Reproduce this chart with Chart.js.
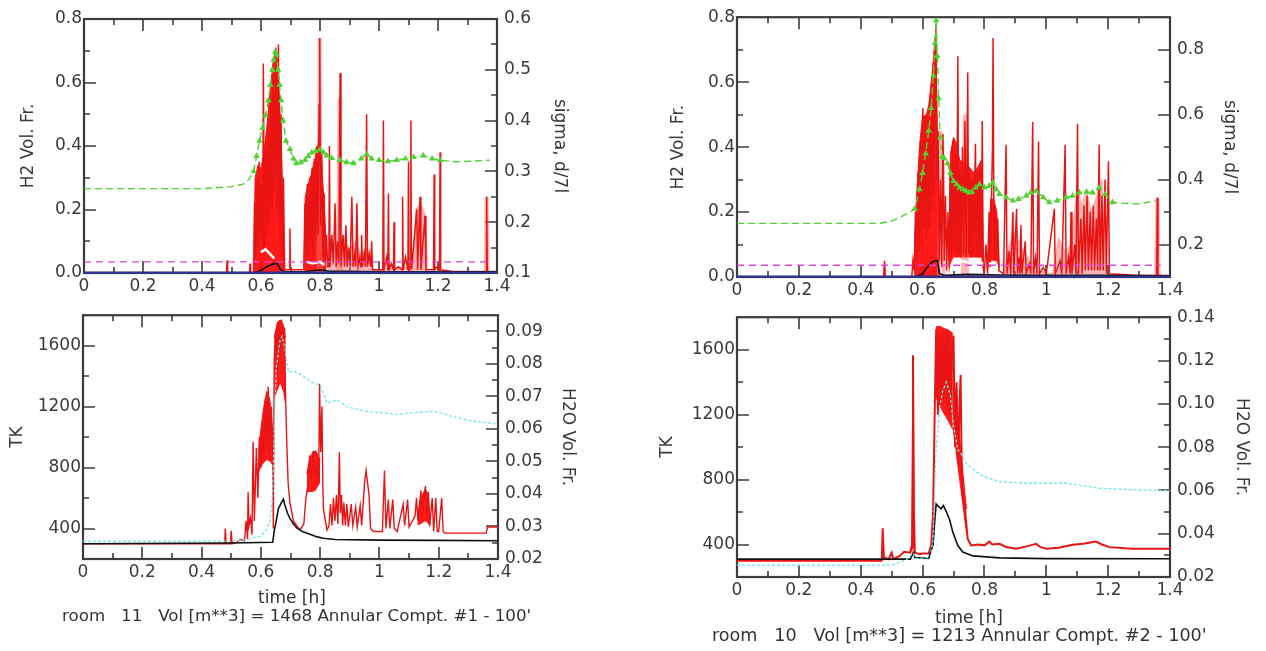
<!DOCTYPE html>
<html>
<head>
<meta charset="utf-8">
<script src="https://cdn.jsdelivr.net/npm/chart.js@4.4.1/dist/chart.umd.min.js"></script>
<style>
html, body { margin: 0; padding: 0; background: #fff; }
body { width: 1266px; height: 651px; position: relative; overflow: hidden; font-family: "DejaVu Sans", sans-serif; color: #333; }
canvas { position: absolute; }
.txt { position: absolute; font-size: 17px; line-height: 17px; white-space: pre; }
</style>
</head>
<body>
<canvas id="r11top" width="620" height="300" style="left:0;top:0"></canvas>
<canvas id="r11bot" width="620" height="290" style="left:0;top:298px"></canvas>
<canvas id="r10top" width="626" height="300" style="left:640px;top:0"></canvas>
<canvas id="r10bot" width="626" height="310" style="left:640px;top:300px"></canvas>
<div class="txt" style="left:258px;top:589px">time [h]</div>
<div class="txt" style="left:62px;top:607px;font-size:16.7px">room   11   Vol [m**3] = 1468 Annular Compt. #1 - 100'</div>
<div class="txt" style="left:935px;top:609px">time [h]</div>
<div class="txt" style="left:712px;top:627px;font-size:17.6px">room   10   Vol [m**3] = 1213 Annular Compt. #2 - 100'</div>
<script>
// --- axes ---
const xTicks = [0, 0.2, 0.4, 0.6, 0.8, 1, 1.2, 1.4];
const xTickLabels = ['0', '0.2', '0.4', '0.6', '0.8', '1', '1.2', '1.4'];
const xMinor = [0.1, 0.3, 0.5, 0.7, 0.9, 1.1, 1.3];

const h2Ticks = [0, 0.2, 0.4, 0.6, 0.8];
const h2Labels = ['0.0', '0.2', '0.4', '0.6', '0.8'];
const h2Minor = [0.1, 0.3, 0.5, 0.7];

const r11SigmaTicks = [0.1, 0.2, 0.3, 0.4, 0.5, 0.6];
const r11SigmaLabels = ['0.1', '0.2', '0.3', '0.4', '0.5', '0.6'];
const r11SigmaMinor = [0.15, 0.25, 0.35, 0.45, 0.55];
const r10SigmaTicks = [0.2, 0.4, 0.6, 0.8];
const r10SigmaLabels = ['0.2', '0.4', '0.6', '0.8'];
const r10SigmaMinor = [0.3, 0.5, 0.7];

const tkTicks = [400, 800, 1200, 1600];
const tkLabels = ['400', '800', '1200', '1600'];
const tkMinor = [600, 1000, 1400];

const r11H2oTicks = [0.02, 0.03, 0.04, 0.05, 0.06, 0.07, 0.08, 0.09];
const r11H2oLabels = ['0.02', '0.03', '0.04', '0.05', '0.06', '0.07', '0.08', '0.09'];
const r11H2oMinor = [0.025, 0.035, 0.045, 0.055, 0.065, 0.075, 0.085];
const r10H2oTicks = [0.02, 0.04, 0.06, 0.08, 0.10, 0.12, 0.14];
const r10H2oLabels = ['0.02', '0.04', '0.06', '0.08', '0.10', '0.12', '0.14'];
const r10H2oMinor = [0.03, 0.05, 0.07, 0.09, 0.11, 0.13];

// --- room 11, upper plot: [time, value] ---
const r11H2Red = [
  [0,0],[0.483,0],[0.485,0.04],[0.487,0],[0.561,0],[0.563,0.03],[0.565,0],[0.575,0],
  [0.578,0.22],[0.582,0.05],[0.586,0.30],[0.59,0.08],[0.594,0.35],[0.598,0.10],[0.602,0.28],[0.606,0.06],[0.608,0.66],[0.611,0.08],
  [0.616,0.42],[0.62,0.12],[0.625,0.47],[0.629,0.15],[0.633,0.55],[0.637,0.20],[0.641,0.64],[0.645,0.25],[0.65,0.71],[0.654,0.20],
  [0.659,0.72],[0.663,0.10],[0.668,0.50],[0.672,0.05],[0.676,0.30],[0.68,0.01],
  [0.696,0.01],[0.698,0.14],[0.70,0.01],[0.745,0.01],
  [0.749,0.22],[0.753,0.06],[0.757,0.28],[0.761,0.05],[0.765,0.30],[0.769,0.08],[0.773,0.33],[0.777,0.05],[0.781,0.36],[0.785,0.10],
  [0.789,0.40],[0.793,0.12],[0.797,0.53],[0.799,0.74],[0.802,0.15],[0.806,0.38],[0.81,0.05],[0.814,0.25],[0.818,0.03],[0.822,0.12],[0.826,0.02],
  [0.830,0.02],[0.832,0.40],[0.834,0.02],[0.840,0.12],[0.845,0.03],[0.851,0.22],[0.855,0.02],[0.860,0.10],[0.864,0.03],[0.868,0.63],
  [0.871,0.02],[0.878,0.12],[0.883,0.02],[0.888,0.15],[0.892,0.02],[0.897,0.08],[0.902,0.02],[0.908,0.24],[0.912,0.02],[0.918,0.06],
  [0.921,0.02],[0.925,0.22],[0.929,0.02],[0.935,0.05],[0.939,0.02],[0.941,0.12],[0.944,0.02],[0.95,0.06],[0.954,0.02],[0.958,0.50],
  [0.961,0.02],[0.967,0.06],[0.972,0.02],[0.975,0.10],[0.978,0.01],
  [1.013,0.01],[1.015,0.48],[1.017,0.01],[1.026,0.05],[1.03,0.01],[1.032,0.25],[1.034,0.01],[1.042,0.03],[1.049,0.01],[1.051,0.16],
  [1.053,0.01],[1.066,0.02],[1.078,0.01],[1.08,0.24],[1.082,0.01],[1.09,0.05],[1.098,0.01],[1.10,0.35],[1.102,0.01],[1.106,0.02],
  [1.108,0.48],[1.11,0.01],[1.128,0.20],[1.131,0.01],[1.139,0.24],[1.142,0.01],[1.156,0.18],[1.159,0.01],[1.185,0.01],[1.187,0.31],
  [1.189,0.01],[1.197,0.02],[1.205,0.01],[1.207,0.38],[1.209,0.01],[1.25,0.005],[1.363,0.005],[1.365,0.24],[1.367,0.005],[1.4,0.005]
];
const r11H2Pink = [[0.795,0],[0.799,0.74],[0.803,0],[0.862,0],[0.866,0.55],[0.87,0],[1.361,0],[1.365,0.24],[1.369,0]];
// [time, low, high] of the dense oscillation
const r11H2Body1 = [[0.576,0,0.05],[0.58,0,0.30],[0.59,0,0.34],[0.60,0,0.33],[0.61,0,0.38],[0.62,0,0.46],[0.63,0,0.57],
  [0.64,0,0.66],[0.648,0,0.70],[0.656,0,0.67],[0.664,0,0.52],[0.672,0,0.30],[0.68,0,0.02]];
const r11H2Body2 = [[0.746,0,0.03],[0.75,0,0.24],[0.76,0,0.28],[0.77,0,0.31],[0.78,0,0.35],[0.79,0,0.39],[0.798,0,0.43],
  [0.806,0,0.34],[0.814,0,0.22],[0.822,0,0.07]];
const r11H2PinkBody = [[0.83,0,0.01],[0.84,0,0.10],[0.86,0,0.08],[0.88,0,0.12],[0.90,0,0.07],[0.92,0,0.10],[0.94,0,0.06],[0.96,0,0.08],
  [0.98,0,0.01],[1.115,0,0.02],[1.125,0,0.20],[1.14,0,0.22],[1.155,0,0.19],[1.165,0,0.02]];
const r11White = [[0.60,0.065],[0.615,0.075],[0.63,0.06],[0.645,0.045],[0.70,null],[0.755,0.035],[0.775,0.03],[0.80,0.035],[0.815,0.025]];
const r11Sigma = [[0,0.266],[0.1,0.266],[0.2,0.266],[0.3,0.266],[0.4,0.266],[0.5,0.27],[0.54,0.275],[0.56,0.285],[0.575,0.30],
  [0.585,0.33],[0.595,0.36],[0.605,0.385],[0.615,0.41],[0.625,0.44],[0.632,0.47],[0.638,0.50],[0.643,0.52],[0.648,0.535],[0.653,0.53],
  [0.658,0.50],[0.663,0.47],[0.668,0.44],[0.675,0.40],[0.685,0.36],[0.698,0.344],[0.71,0.325],[0.72,0.316],[0.735,0.318],[0.749,0.322],
  [0.76,0.33],[0.772,0.337],[0.785,0.34],[0.80,0.343],[0.812,0.337],[0.823,0.331],[0.84,0.326],[0.868,0.322],[0.89,0.318],[0.913,0.316],
  [0.94,0.325],[0.958,0.334],[0.975,0.325],[1.0,0.322],[1.03,0.32],[1.06,0.322],[1.09,0.325],[1.117,0.328],[1.15,0.331],[1.18,0.325],
  [1.207,0.322],[1.26,0.319],[1.31,0.32],[1.375,0.322]];
const r11Limit = [[0,0.035],[1.375,0.035]];
const r11Black = [[0,0],[0.58,0],[0.60,0.008],[0.62,0.02],[0.64,0.028],[0.655,0.03],[0.665,0.012],[0.68,0.004],[0.75,0.004],
  [0.80,0.01],[0.83,0.006],[1.0,0.004],[1.4,0.004]];
const r11Navy = [[0,0.001],[1.4,0.001]];

// --- room 11, lower plot ---
const r11TkRed = [
  [0,300],[0.478,300],[0.48,400],[0.483,300],[0.497,300],[0.50,385],[0.503,300],[0.52,310],[0.53,330],[0.545,320],[0.55,450],[0.555,330],
  [0.557,640],[0.56,420],[0.565,470],[0.57,360],[0.574,970],[0.578,450],[0.585,930],[0.59,600],[0.595,1000],[0.60,800],[0.605,1100],
  [0.61,850],[0.615,1250],[0.62,900],[0.625,1330],[0.63,850],[0.635,1200],[0.64,950],[0.642,400],[0.645,1500],[0.65,1700],[0.655,1400],
  [0.66,1760],[0.665,1550],[0.67,1770],[0.675,1600],[0.68,1720],[0.683,1300],[0.687,990],[0.692,700],[0.698,570],[0.71,450],[0.72,420],
  [0.732,390],[0.745,430],[0.752,600],[0.76,700],[0.765,880],[0.77,720],[0.777,910],[0.782,740],[0.789,800],[0.795,700],[0.798,1350],
  [0.802,900],[0.806,1200],[0.809,700],[0.811,530],[0.823,390],[0.83,420],[0.835,560],[0.84,420],[0.845,600],[0.85,450],[0.855,620],
  [0.86,430],[0.865,900],[0.868,500],[0.872,620],[0.876,420],[0.88,570],[0.885,420],[0.89,560],[0.895,410],[0.905,560],[0.91,420],
  [0.92,540],[0.925,410],[0.935,550],[0.94,420],[0.95,700],[0.955,780],[0.96,700],[0.965,620],[0.97,400],[0.98,380],[1.01,380],
  [1.017,780],[1.022,400],[1.03,590],[1.035,400],[1.045,590],[1.05,400],[1.06,380],[1.08,560],[1.085,420],[1.095,590],[1.10,410],
  [1.12,480],[1.125,600],[1.13,450],[1.14,650],[1.145,480],[1.155,680],[1.16,500],[1.165,640],[1.17,420],[1.178,600],[1.183,380],
  [1.19,600],[1.195,380],[1.20,380],[1.21,600],[1.215,380],[1.22,370],[1.36,370],[1.365,410],[1.40,410]
];
const r11TkBody1 = [[0.592,760,900],[0.60,800,1050],[0.61,830,1200],[0.62,850,1300],[0.63,840,1250],[0.637,820,1100],[0.642,780,950]];
const r11TkBody2 = [[0.645,1250,1650],[0.655,1300,1750],[0.665,1350,1770],[0.675,1300,1740],[0.683,1200,1650]];
const r11TkBody3 = [[0.755,640,760],[0.765,640,860],[0.775,640,900],[0.785,650,910],[0.80,700,850]];
const r11TkBody4 = [[1.128,420,480],[1.14,430,600],[1.155,450,660],[1.165,430,620],[1.17,400,420]];
const r11TkBlack = [[0,300],[0.5,305],[0.64,310],[0.645,383],[0.652,450],[0.659,530],[0.67,572],[0.676,593],[0.68,560],[0.69,500],
  [0.698,466],[0.71,430],[0.721,404],[0.74,380],[0.766,362],[0.79,345],[0.811,336],[0.85,328],[1.0,324],[1.2,322],[1.4,320]];
const r11H2o = [[0,0.0255],[0.5,0.0255],[0.55,0.026],[0.6,0.027],[0.62,0.029],[0.631,0.032],[0.64,0.04],[0.645,0.06],[0.652,0.0790],
  [0.665,0.0876],[0.672,0.0886],[0.681,0.0847],[0.693,0.0775],[0.71,0.0778],[0.74,0.0765],[0.77,0.0745],[0.8,0.0735],[0.823,0.0679],
  [0.857,0.0689],[0.89,0.0669],[0.947,0.0655],[1.003,0.065],[1.06,0.0645],[1.116,0.065],[1.184,0.0655],[1.24,0.064],[1.308,0.0625],[1.4,0.0615]];

// --- room 10, upper plot ---
const r10H2Red = [
  [0,0],[0.474,0],[0.477,0.05],[0.48,0],[0.565,0],
  [0.569,0.05],[0.573,0.02],[0.577,0.20],[0.581,0.05],[0.585,0.32],[0.589,0.08],[0.593,0.42],[0.597,0.10],[0.601,0.52],[0.605,0.15],
  [0.609,0.50],[0.613,0.12],[0.617,0.48],[0.621,0.15],[0.625,0.55],[0.629,0.20],[0.633,0.64],[0.637,0.25],[0.641,0.74],[0.643,0.78],
  [0.646,0.30],[0.65,0.45],[0.654,0.05],[0.658,0.30],[0.662,0.03],[0.666,0.44],[0.67,0.05],[0.674,0.25],[0.678,0.02],[0.682,0.20],[0.686,0.03],
  [0.69,0.35],[0.694,0.06],[0.698,0.42],[0.702,0.08],[0.706,0.38],[0.71,0.06],[0.714,0.68],[0.717,0.07],[0.721,0.33],[0.725,0.06],
  [0.729,0.40],[0.733,0.07],[0.737,0.48],[0.741,0.06],[0.746,0.63],[0.749,0.07],[0.753,0.32],[0.757,0.06],[0.761,0.30],[0.765,0.07],
  [0.771,0.41],[0.774,0.06],[0.779,0.33],[0.783,0.06],[0.787,0.34],[0.79,0.06],[0.793,0.48],[0.796,0.03],[0.80,0.02],[0.805,0.10],
  [0.81,0.01],[0.815,0.20],[0.819,0.03],[0.823,0.25],[0.826,0.40],[0.828,0.736],[0.831,0.05],[0.835,0.22],[0.839,0.04],[0.843,0.18],[0.847,0.02],
  [0.862,0.01],[0.87,0.407],[0.873,0.01],[0.88,0.08],[0.885,0.01],[0.892,0.20],[0.895,0.01],[0.904,0.21],[0.907,0.01],[0.912,0.06],
  [0.915,0.01],[0.918,0.16],[0.921,0.01],[0.932,0.11],[0.935,0.01],[0.945,0.04],[0.95,0.01],[0.956,0.477],[0.959,0.01],[0.965,0.06],
  [0.97,0.01],[0.975,0.417],[0.978,0.01],[0.99,0.03],[1.0,0.01],[1.026,0.21],[1.029,0.01],[1.045,0.05],[1.05,0.01],[1.061,0.407],
  [1.064,0.01],[1.072,0.06],[1.077,0.01],[1.08,0.20],[1.083,0.01],[1.092,0.10],[1.096,0.01],[1.101,0.472],[1.104,0.01],[1.112,0.18],
  [1.116,0.01],[1.122,0.22],[1.126,0.02],[1.132,0.25],[1.136,0.02],[1.142,0.20],[1.146,0.02],[1.152,0.22],[1.156,0.02],[1.162,0.18],
  [1.166,0.02],[1.171,0.407],[1.174,0.02],[1.18,0.25],[1.184,0.02],[1.19,0.30],[1.194,0.01],[1.201,0.356],[1.204,0.01],[1.30,0.005],
  [1.357,0.005],[1.359,0.244],[1.361,0.005],[1.4,0.005]
];
const r10H2Pink = [[0.652,0],[0.658,0.45],[0.664,0.40],[0.668,0],[0.73,0],[0.737,0.50],[0.744,0],[1.355,0],[1.359,0.244],[1.363,0]];
const r10H2Body1 = [[0.572,0,0.03],[0.58,0,0.24],[0.59,0,0.40],[0.60,0,0.50],[0.61,0,0.49],[0.62,0,0.53],[0.63,0,0.62],
  [0.64,0,0.73],[0.645,0,0.62],[0.65,0,0.32],[0.655,0,0.05]];
const r10H2Body2 = [[0.684,0,0.05],[0.69,0.04,0.38],[0.70,0.06,0.43],[0.71,0.06,0.41],[0.72,0.06,0.36],[0.735,0.06,0.35],
  [0.75,0.06,0.34],[0.765,0.06,0.32],[0.78,0.06,0.34],[0.79,0.06,0.36],[0.797,0,0.05]];
const r10H2Body3 = [[0.812,0.02,0.05],[0.82,0.05,0.24],[0.83,0.05,0.24],[0.84,0.05,0.20],[0.848,0.02,0.03]];
const r10H2PinkBody = [[0.86,0,0.01],[0.88,0,0.10],[0.90,0,0.14],[0.92,0,0.09],[0.94,0,0.06],[0.96,0,0.02],
  [1.02,0,0.01],[1.04,0,0.12],[1.06,0,0.08],[1.08,0,0.10],[1.10,0,0.28],[1.115,0,0.22],[1.13,0,0.27],[1.145,0,0.20],
  [1.16,0,0.24],[1.18,0,0.30],[1.19,0,0.02]];
const r10White = [[0.70,0.045],[0.72,0.05],[0.75,0.045],[0.78,0.05],[0.795,0.04],[0.80,null],[0.815,0.04],[0.84,0.045]];
const r10Sigma = [[0,0.265],[0.1,0.265],[0.2,0.265],[0.3,0.265],[0.4,0.265],[0.46,0.265],[0.5,0.272],[0.53,0.285],[0.56,0.30],
  [0.575,0.31],[0.59,0.37],[0.60,0.42],[0.61,0.48],[0.62,0.55],[0.628,0.62],[0.635,0.72],[0.64,0.82],[0.644,0.89],[0.648,0.78],
  [0.652,0.65],[0.657,0.53],[0.663,0.47],[0.67,0.466],[0.68,0.45],[0.69,0.42],[0.70,0.395],[0.71,0.385],[0.72,0.375],[0.73,0.37],
  [0.74,0.365],[0.75,0.36],[0.76,0.362],[0.772,0.375],[0.784,0.385],[0.80,0.375],[0.815,0.38],[0.827,0.39],[0.838,0.37],[0.849,0.355],
  [0.87,0.345],[0.892,0.335],[0.91,0.34],[0.935,0.35],[0.95,0.36],[0.967,0.365],[0.99,0.345],[1.01,0.33],[1.035,0.335],[1.064,0.345],
  [1.085,0.35],[1.107,0.36],[1.13,0.362],[1.15,0.36],[1.171,0.375],[1.19,0.355],[1.214,0.33],[1.25,0.327],[1.3,0.325],[1.354,0.335]];
const r10Limit = [[0,0.036],[1.37,0.036]];
const r10Black = [[0,0],[0.575,0],[0.60,0.01],[0.615,0.03],[0.63,0.045],[0.64,0.05],[0.648,0.05],[0.655,0.01],[0.67,0.005],
  [0.75,0.008],[0.85,0.006],[1.0,0.005],[1.2,0.005],[1.4,0.004]];
const r10Navy = [[0,0.001],[1.4,0.001]];

// --- room 10, lower plot ---
const r10TkRed = [
  [0,300],[0.468,300],[0.471,500],[0.475,320],[0.49,310],[0.50,350],[0.505,310],[0.526,330],[0.54,355],[0.56,350],[0.566,400],
  [0.569,1566],[0.572,600],[0.575,350],[0.59,340],[0.60,345],[0.62,345],[0.628,400],[0.634,600],[0.64,1300],[0.644,1727],[0.65,1200],
  [0.655,1700],[0.66,1250],[0.665,1720],[0.67,1300],[0.675,1700],[0.68,1250],[0.685,1680],[0.69,1200],[0.695,1600],[0.70,1687],
  [0.705,1000],[0.71,1400],[0.715,900],[0.72,1300],[0.723,1444],[0.727,800],[0.73,700],[0.736,636],[0.746,434],[0.757,394],[0.78,400],
  [0.80,395],[0.816,418],[0.825,400],[0.849,404],[0.87,385],[0.902,374],[0.94,390],[0.967,404],[0.98,385],[1.0,374],[1.04,380],
  [1.085,398],[1.12,405],[1.16,418],[1.18,400],[1.203,384],[1.279,374],[1.4,374]
];
const r10TkBody0 = [[0.564,340,360],[0.567,360,1100],[0.570,380,1300],[0.573,350,400]];
const r10TkBody1 = [[0.643,1300,1740],[0.655,1250,1745],[0.67,1200,1730],[0.685,1150,1720],[0.698,1100,1700]];
const r10TkBody2 = [[0.698,1100,1500],[0.705,1000,1350],[0.715,850,1150],[0.725,700,950],[0.735,550,750],[0.742,450,620]];
const r10TkBlack = [[0,310],[0.56,310],[0.565,330],[0.57,350],[0.575,320],[0.62,315],[0.634,400],[0.64,560],[0.644,650],[0.65,636],
  [0.66,620],[0.667,640],[0.675,610],[0.687,556],[0.698,475],[0.714,394],[0.73,354],[0.763,330],[0.849,318],[1.0,313],[1.4,312]];
const r10H2o = [[0,0.0255],[0.5,0.0255],[0.548,0.028],[0.569,0.031],[0.58,0.0285],[0.625,0.029],[0.634,0.0376],[0.644,0.08],
  [0.655,0.098],[0.665,0.106],[0.677,0.110],[0.69,0.104],[0.70,0.09],[0.714,0.0785],[0.72,0.078],[0.741,0.0725],[0.77,0.069],
  [0.795,0.0665],[0.849,0.0641],[0.935,0.0633],[1.064,0.0633],[1.171,0.061],[1.279,0.0603],[1.4,0.0598]];

// --- colours ---
const RED = 'rgb(232,20,20)';
const RED_FILL = 'rgba(255,0,0,0.9)';
const PINK = 'rgba(255,110,110,0.5)';
const GREEN = 'rgb(80,210,50)';
const MAGENTA = 'rgb(220,70,220)';
const CYAN = 'rgb(110,230,230)';
const NAVY = 'rgb(50,50,140)';

Chart.defaults.font.family = 'DejaVu Sans';
Chart.defaults.font.size = 17;
Chart.defaults.color = '#3a3a3a';

const pts = arr => arr.map(([x, y]) => ({ x, y }));

function line(data, color, width, axis, order, extra) {
  return Object.assign({
    data: pts(data), borderColor: color, borderWidth: width, yAxisID: axis,
    pointRadius: 0, fill: false, order: order
  }, extra || {});
}

// dense oscillation drawn as a filled band between its low and high envelope
function band(rows, color, axis, order) {
  return [
    { data: rows.map(r => ({ x: r[0], y: r[1] })), borderWidth: 0, borderColor: 'transparent',
      pointRadius: 0, fill: false, yAxisID: axis, order: order },
    { data: rows.map(r => ({ x: r[0], y: r[2] })), borderWidth: 1, borderColor: color, backgroundColor: color,
      pointRadius: 0, fill: '-1', yAxisID: axis, order: order }
  ];
}

// frame and inward tick marks, as in the original plot
const frameTicks = {
  id: 'frameTicks',
  beforeDatasetsDraw(chart, args, o) {
    const { ctx, chartArea: a, scales } = chart;
    ctx.save();
    ctx.strokeStyle = '#3c3c3c';
    ctx.lineWidth = 1.6;
    ctx.beginPath();
    const mark = (scale, vals, len, side) => {
      vals.forEach(v => {
        const p = Math.round(scale.getPixelForValue(v));
        if (side === 'x') {
          ctx.moveTo(p, a.bottom); ctx.lineTo(p, a.bottom - len);
          ctx.moveTo(p, a.top); ctx.lineTo(p, a.top + len);
        } else if (side === 'left') {
          ctx.moveTo(a.left, p); ctx.lineTo(a.left + len, p);
        } else {
          ctx.moveTo(a.right, p); ctx.lineTo(a.right - len, p);
        }
      });
    };
    mark(scales.x, o.xMajor, 12, 'x');
    mark(scales.x, o.xMinor, 6, 'x');
    mark(scales.y, o.yMajor, 12, 'left');
    mark(scales.y, o.yMinor, 6, 'left');
    mark(scales.y2, o.y2Major, 12, 'right');
    mark(scales.y2, o.y2Minor, 6, 'right');
    ctx.stroke();
    ctx.lineWidth = 2.2;
    ctx.strokeRect(a.left, a.top, a.right - a.left, a.bottom - a.top);
    ctx.restore();
  }
};

function yScale(pos, min, max, ticks, labels, width, title, titlePad, pad) {
  return {
    type: 'linear', position: pos, min: min, max: max,
    grid: { display: false, drawTicks: false }, border: { display: false },
    afterBuildTicks: s => { s.ticks = ticks.map(value => ({ value })); },
    afterFit: s => { s.width = width; },
    ticks: { padding: pad, autoSkip: false, callback: (v, i) => labels[i] },
    title: { display: true, text: title, padding: { top: titlePad, bottom: 0 } }
  };
}

function makePanel(id, p) {
  return new Chart(document.getElementById(id), {
    type: 'line',
    data: { datasets: p.datasets },
    options: {
      responsive: false,
      animation: false,
      events: [],
      layout: { padding: { top: p.padTop, left: 0, right: 0, bottom: 0 } },
      elements: { line: { tension: 0 } },
      plugins: {
        legend: { display: false },
        tooltip: { enabled: false },
        frameTicks: {
          xMajor: xTicks, xMinor: xMinor,
          yMajor: p.y.ticks, yMinor: p.y.minor,
          y2Major: p.y2.ticks, y2Minor: p.y2.minor
        }
      },
      scales: {
        x: {
          type: 'linear', min: 0, max: 1.4,
          grid: { display: false, drawTicks: false }, border: { display: false },
          afterBuildTicks: s => { s.ticks = xTicks.map(value => ({ value })); },
          afterFit: s => { s.height = p.xHeight; },
          ticks: { padding: 3, autoSkip: false, maxRotation: 0, callback: (v, i) => xTickLabels[i] }
        },
        y: yScale('left', p.y.min, p.y.max, p.y.ticks, p.y.labels, p.y.width, p.y.title, p.y.titlePad, 2),
        y2: yScale('right', p.y2.min, p.y2.max, p.y2.ticks, p.y2.labels, p.y2.width, p.y2.title, p.y2.titlePad, 7)
      }
    },
    plugins: [frameTicks]
  });
}

const sigmaPoints = { borderDash: [7, 4], pointStyle: 'triangle', pointBackgroundColor: GREEN, pointBorderColor: GREEN,
  pointRadius: c => (c.raw && c.raw.x > 0.56 && c.raw.x < 1.22 ? 2.4 : 0) };

function topSets(red, pink, bodies, pinkBody, white, sigma, limit, black, navy) {
  let sets = [];
  bodies.forEach(b => { sets = sets.concat(band(b, RED_FILL, 'y', 10)); });
  sets = sets.concat(band(pinkBody, PINK, 'y', 11));
  sets.push(line(pink, PINK, 4, 'y', 9));
  sets.push(line(red, RED, 1.5, 'y', 8));
  sets.push(line(white, '#ffffff', 2.5, 'y', 7));
  sets.push(line(black, '#111111', 1.6, 'y', 5));
  sets.push(line(navy, NAVY, 2.5, 'y', 4, { clip: false }));
  sets.push(line(limit, MAGENTA, 1.4, 'y', 3, { borderDash: [7, 5] }));
  sets.push(line(sigma, GREEN, 1.4, 'y2', 2, sigmaPoints));
  return sets;
}

function botSets(red, bodies, black, h2o, redWidth) {
  let sets = [];
  bodies.forEach(b => { sets = sets.concat(band(b, RED_FILL, 'y', 10)); });
  sets.push(line(red, RED, redWidth, 'y', 8));
  sets.push(line(black, '#111111', 1.6, 'y', 4));
  sets.push(line(h2o, CYAN, 1.3, 'y2', 3, { borderDash: [3, 2] }));
  return sets;
}

makePanel('r11top', {
  padTop: 19, xHeight: 27,
  y: { min: 0, max: 0.8, ticks: h2Ticks, labels: h2Labels, minor: h2Minor, width: 84, title: 'H2 Vol. Fr.', titlePad: 18 },
  y2: { min: 0.1, max: 0.6, ticks: r11SigmaTicks, labels: r11SigmaLabels, minor: r11SigmaMinor, width: 123, title: 'sigma, d/7l', titlePad: 50 },
  datasets: topSets(r11H2Red, r11H2Pink, [r11H2Body1, r11H2Body2], r11H2PinkBody, r11White, r11Sigma, r11Limit, r11Black, r11Navy)
});

makePanel('r11bot', {
  padTop: 7, xHeight: 29,
  y: { min: 200, max: 1800, ticks: tkTicks, labels: tkLabels, minor: tkMinor, width: 83, title: 'TK', titlePad: 7 },
  y2: { min: 0.02, max: 0.095, ticks: r11H2oTicks, labels: r11H2oLabels, minor: r11H2oMinor, width: 122, title: 'H2O Vol. Fr.', titlePad: 42 },
  datasets: botSets(r11TkRed, [r11TkBody1, r11TkBody2, r11TkBody3, r11TkBody4], r11TkBlack, r11H2o, 1.4)
});

makePanel('r10top', {
  padTop: 14, xHeight: 23,
  y: { min: 0, max: 0.8, ticks: h2Ticks, labels: h2Labels, minor: h2Minor, width: 97, title: 'H2 Vol. Fr.', titlePad: 28 },
  y2: { min: 0.1, max: 0.9, ticks: r10SigmaTicks, labels: r10SigmaLabels, minor: r10SigmaMinor, width: 96, title: 'sigma, d/7l', titlePad: 26 },
  datasets: topSets(r10H2Red, r10H2Pink, [r10H2Body1, r10H2Body2, r10H2Body3], r10H2PinkBody, r10White, r10Sigma, r10Limit, r10Black, r10Navy)
});

makePanel('r10bot', {
  padTop: 13, xHeight: 33,
  y: { min: 200, max: 1800, ticks: tkTicks, labels: tkLabels, minor: tkMinor, width: 97, title: 'TK', titlePad: 17 },
  y2: { min: 0.02, max: 0.14, ticks: r10H2oTicks, labels: r10H2oLabels, minor: r10H2oMinor, width: 96, title: 'H2O Vol. Fr.', titlePad: 14 },
  datasets: botSets(r10TkRed, [r10TkBody0, r10TkBody1, r10TkBody2], r10TkBlack, r10H2o, 2)
});
</script>
</body>
</html>
